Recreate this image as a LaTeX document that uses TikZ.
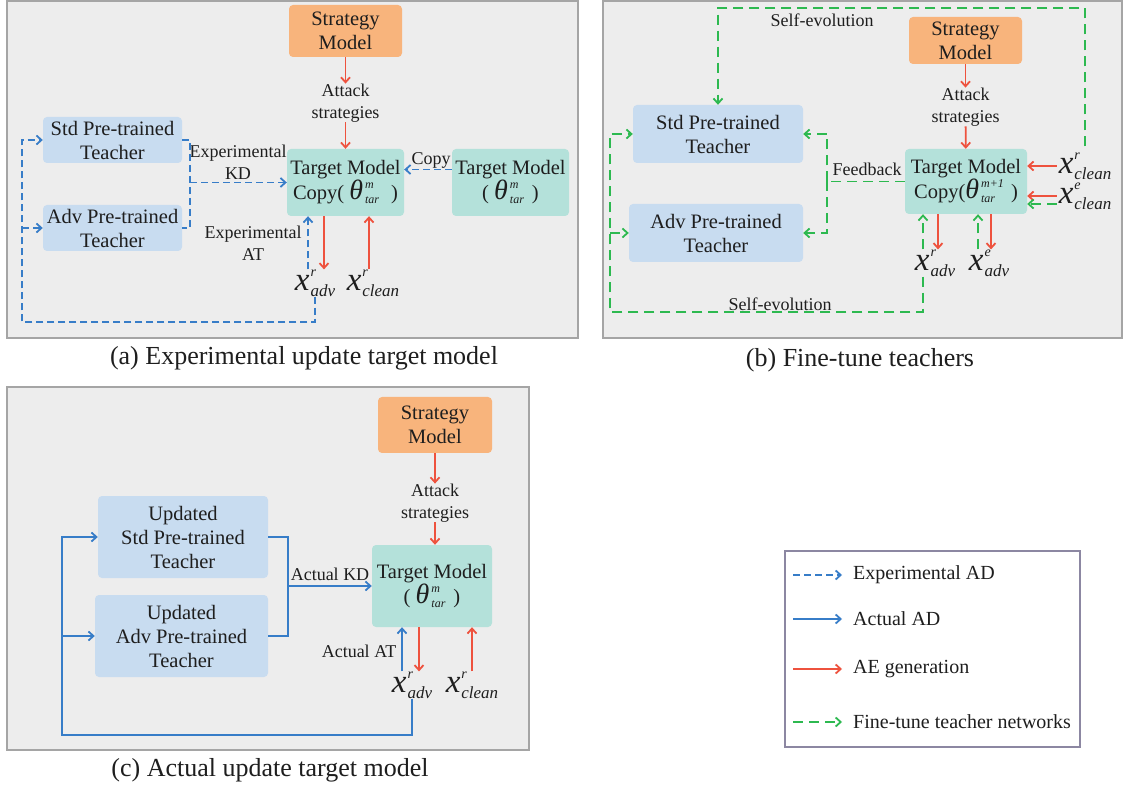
\documentclass[tikz,border=0pt]{standalone}
\usepackage{fontspec}
\setmainfont{Liberation Serif}
\usetikzlibrary{arrows.meta}

\definecolor{panelfill}{RGB}{237,237,237}
\definecolor{panelline}{RGB}{165,165,165}
\definecolor{teachfill}{RGB}{200,220,240}
\definecolor{targfill}{RGB}{180,225,218}
\definecolor{stratfill}{RGB}{248,180,124}
\definecolor{adblue}{RGB}{55,125,200}
\definecolor{aered}{RGB}{238,82,62}
\definecolor{ftgreen}{RGB}{45,185,80}
\definecolor{keyline}{RGB}{140,135,162}
\definecolor{txt}{RGB}{30,30,30}

% italic variable with super- and subscript
\newcommand{\xvar}[2]{{\fontsize{33}{33}\selectfont\itshape x}\hspace{1pt}%
  \rlap{\raisebox{14pt}{\fontsize{14}{14}\selectfont\itshape #1}}%
  \raisebox{-6pt}{\fontsize{17}{17}\selectfont\itshape #2}}
\newcommand{\thvar}[2]{{\fontsize{28}{28}\selectfont\itshape θ}\hspace{2pt}%
  \rlap{\raisebox{11pt}{\fontsize{12}{12}\selectfont\itshape #1}}%
  \raisebox{-4pt}{\fontsize{12}{12}\selectfont\itshape #2}}

\begin{document}
\begin{tikzpicture}[x=1pt,y=-1pt,
	box/.style={rectangle,rounded corners=4pt,inner sep=0pt,align=center,text=txt,
		font=\fontsize{20.5}{24}\selectfont},
	teacher/.style={box,fill=teachfill},
	target/.style={box,fill=targfill},
	strategy/.style={box,fill=stratfill},
	lbl/.style={inner sep=0pt,align=center,text=txt,font=\fontsize{18}{22}\selectfont},
	var/.style={inner sep=0pt,text=txt},
	caption/.style={inner sep=0pt,text=txt,font=\fontsize{26}{30}\selectfont},
	legtext/.style={inner sep=0pt,anchor=west,text=txt,font=\fontsize{20}{24}\selectfont},
	panel/.style={draw=panelline,fill=panelfill,line width=1.3pt},
	flow/.style={line width=1.8pt,-{Straight Barb[length=5pt,width=9pt]}},
	expad/.style={flow,draw=adblue,dash pattern=on 7pt off 4pt},
	actad/.style={flow,draw=adblue},
	aegen/.style={flow,draw=aered},
	ftune/.style={flow,draw=ftgreen,dash pattern=on 10pt off 6pt}]
\useasboundingbox (0,0) rectangle (1125,791);
\fill[white] (0,0) rectangle (1125,791);

% (a) experimental update
\draw[panel] (7,1) rectangle (578,338);
\node[strategy,minimum width=113,minimum height=52] (stratA) at (345.5,31) {Strategy\\Model};
\node[lbl] (atkA) at (345.5,103) {Attack\\strategies};
\node[target,minimum width=117,minimum height=67] (copyA) at (345.5,182.5) {Target Model\\Copy(~\thvar{m}{tar}\hspace{12pt})};
\node[target,minimum width=117,minimum height=67] (tgtA) at (510.5,182.5) {Target Model\\(~\thvar{m}{tar}\hspace{8pt})};
\node[teacher,minimum width=139,minimum height=46] (stdA) at (112.5,140) {Std Pre-trained\\Teacher};
\node[teacher,minimum width=139,minimum height=46] (advA) at (112.5,228) {Adv Pre-trained\\Teacher};
\node[var] (xadvA) at (315,283) {\xvar{r}{adv}};
\node[var] (xcleanA) at (373,283) {\xvar{r}{clean}};
\node[lbl] (copylA) at (431,160) {Copy};
\node[lbl] (kdA) at (238,162) {Experimental\\KD};
\node[lbl] (atA) at (253,243) {Experimental\\AT};

\draw[aegen] (stratA) -- (atkA);
\draw[aegen] (atkA) -- (copyA);
\draw[expad] ([yshift=13pt]tgtA.west) -- ([yshift=13pt]copyA.east);
\draw[expad,-] (stdA.east) -- ++(8,0) coordinate (kdjA) |- (advA.east);
\draw[expad] (kdjA |- copyA.west) -- (copyA.west);
\draw[expad] ([xshift=-7pt]xadvA.north) -- ([xshift=-7pt]xadvA.north |- copyA.south);
\draw[aegen] ([xshift=9pt]xadvA.north |- copyA.south) -- ([xshift=9pt]xadvA.north);
\draw[aegen] ([xshift=-4pt]xcleanA.north) -- ([xshift=-4pt]xcleanA.north |- copyA.south);
\coordinate (loopA) at (22,322);
\draw[expad] (xadvA.south) |- (loopA) |- (stdA.west);
\draw[expad] (loopA |- advA.west) -- (advA.west);
\node[caption] (capA) at (304,358) {(a) Experimental update target model};

% (b) fine-tune teachers
\draw[panel] (603,1) rectangle (1122,338);
\node[strategy,minimum width=113,minimum height=47] (stratB) at (965.5,40.5) {Strategy\\Model};
\node[lbl] (atkB) at (965.5,107) {Attack\\strategies};
\node[target,minimum width=122,minimum height=65] (copyB) at (966,181.5) {Target Model\\Copy(\thvar{m+1}{tar}\hspace{16pt})};
\node[teacher,minimum width=170,minimum height=58] (stdB) at (718,134) {Std Pre-trained\\Teacher};
\node[teacher,minimum width=174,minimum height=58] (advB) at (716,233) {Adv Pre-trained\\Teacher};
\node[var] (xcrB) at (1085,166) {\xvar{r}{clean}};
\node[var] (xceB) at (1085,196) {\xvar{e}{clean}};
\node[var] (xarB) at (935,263) {\xvar{r}{adv}};
\node[var] (xaeB) at (989,263) {\xvar{e}{adv}};
\node[lbl] (fbB) at (867,169) {Feedback};
\node[lbl] (seTopB) at (822,20) {Self-evolution};
\node[lbl] (seBotB) at (780,304) {Self-evolution};

\draw[aegen] (stratB) -- (atkB);
\draw[aegen] (atkB) -- (copyB);
\draw[aegen] ([xshift=-2pt]xcrB.west) -- (xcrB.west -| copyB.east);
\draw[aegen] ([xshift=-2pt]xceB.west) -- (xceB.west -| copyB.east);
\draw[ftune] ([xshift=-2pt,yshift=-8pt]xceB.west) -- ([yshift=-8pt]xceB.west -| copyB.east);
\draw[ftune] ([xshift=-12pt]xarB.north) -- ([xshift=-12pt]xarB.north |- copyB.south);
\draw[aegen] ([xshift=3pt]xarB.north |- copyB.south) -- ([xshift=3pt]xarB.north);
\draw[ftune] ([xshift=-11pt]xaeB.north) -- ([xshift=-11pt]xaeB.north |- copyB.south);
\draw[aegen] ([xshift=2pt]xaeB.north |- copyB.south) -- ([xshift=2pt]xaeB.north);
\draw[ftune,-] (copyB.west) -- (827,181.5) coordinate (fbjB);
\draw[ftune] (fbjB) |- (stdB.east);
\draw[ftune] (fbjB) |- (advB.east);
\coordinate (topB) at (0,8);
\draw[ftune] ([yshift=6pt]xcrB.north) |- (stdB.north |- topB) -- (stdB.north);
\coordinate (loopB) at (610,312);
\draw[ftune] ([xshift=-12pt]xarB.south) |- (loopB) |- (stdB.west);
\draw[ftune] (loopB |- advB.west) -- (advB.west);
\node[caption] (capB) at (860,360) {(b) Fine-tune teachers};

% (c) actual update
\draw[panel] (7,387) rectangle (529,750);
\node[strategy,minimum width=114,minimum height=56] (stratC) at (435,425) {Strategy\\Model};
\node[lbl] (atkC) at (435,503) {Attack\\strategies};
\node[target,minimum width=120,minimum height=82] (tgtC) at (432,586) {Target Model\\(~\thvar{m}{tar}\hspace{8pt})};
\node[teacher,minimum width=170,minimum height=82] (stdC) at (183,537) {Updated\\Std Pre-trained\\Teacher};
\node[teacher,minimum width=173,minimum height=82] (advC) at (181.5,636) {Updated\\Adv Pre-trained\\Teacher};
\node[var] (xadvC) at (412,685) {\xvar{r}{adv}};
\node[var] (xcleanC) at (472,685) {\xvar{r}{clean}};
\node[lbl] (kdC) at (330,574) {Actual KD};
\node[lbl] (atC) at (359,651) {Actual AT};

\draw[aegen] (stratC) -- (atkC);
\draw[aegen] (atkC) -- (atkC |- tgtC.north);
\draw[actad,-] (stdC.east) -- ++(20,0) coordinate (kdjC) |- (advC.east);
\draw[actad] (kdjC |- tgtC.west) -- (tgtC.west);
\draw[actad] ([xshift=-10pt]xadvC.north) -- ([xshift=-10pt]xadvC.north |- tgtC.south);
\draw[aegen] ([xshift=7pt]xadvC.north |- tgtC.south) -- ([xshift=7pt]xadvC.north);
\draw[aegen] (xcleanC.north) -- (xcleanC.north |- tgtC.south);
\coordinate (loopC) at (62,735);
\draw[actad] (xadvC.south) |- (loopC) |- (stdC.west);
\draw[actad] (loopC |- advC.west) -- (advC.west);
\node[caption] (capC) at (270,770) {(c) Actual update target model};

% legend
\draw[draw=keyline,fill=white,line width=1.3pt] (785,551) rectangle (1080,747);
\foreach \y/\st/\txt [count=\i] in {575/expad/Experimental AD,619/actad/Actual AD,
		669/aegen/AE generation,722/ftune/Fine-tune teacher networks}{
	\coordinate (keyS\i) at (793,\y);
	\node[legtext] (key\i) at (853,\y) {\txt};
	\draw[\st] (keyS\i) -- ([xshift=-11pt]key\i.west);
}
\end{tikzpicture}
\end{document}
